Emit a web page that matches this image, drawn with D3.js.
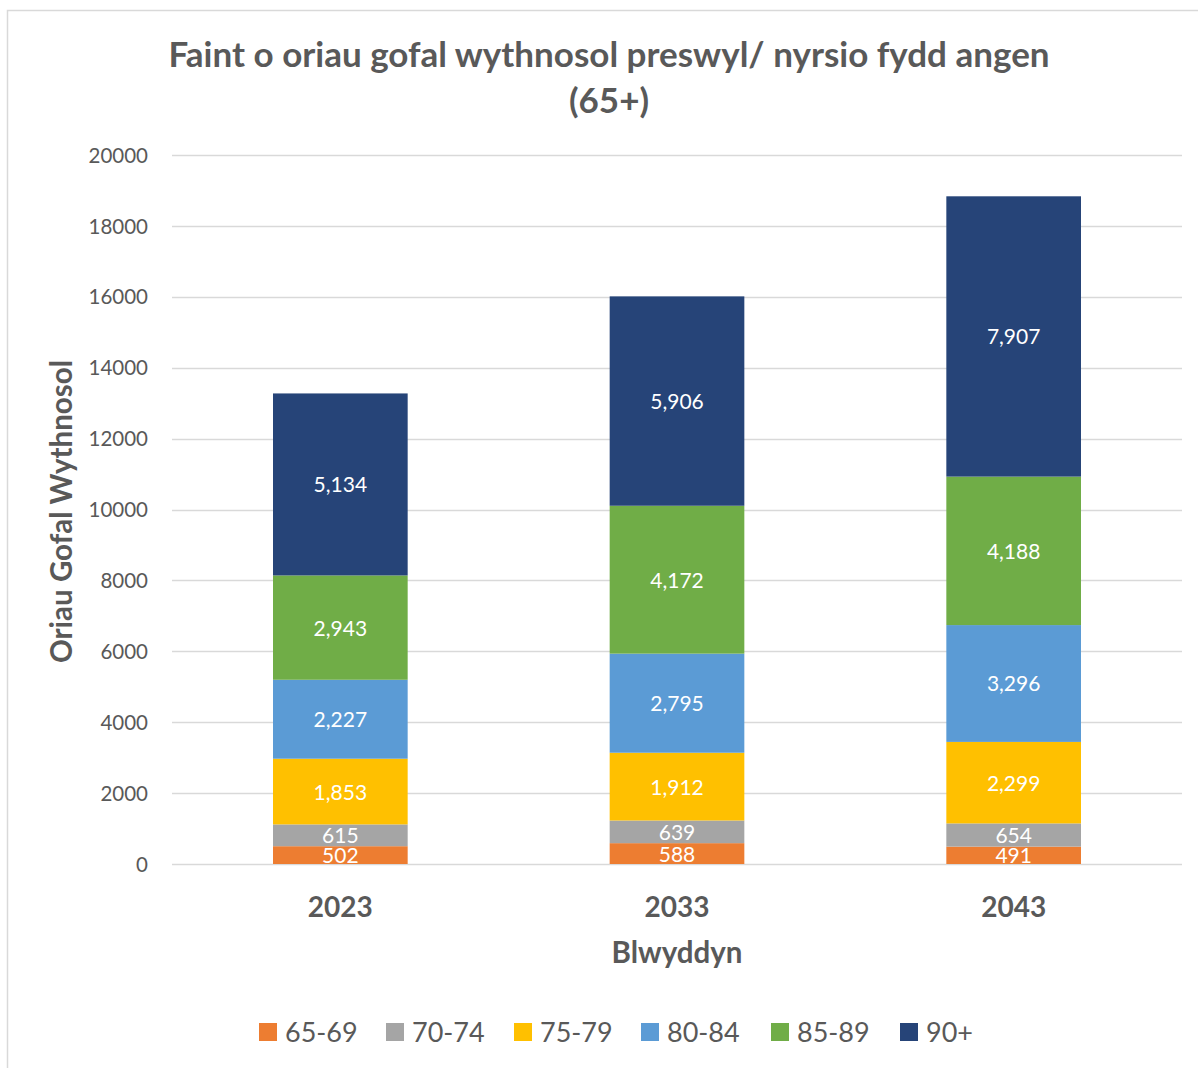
<!DOCTYPE html>
<html>
<head>
<meta charset="utf-8">
<script src="https://cdn.jsdelivr.net/npm/d3@7"></script>
<style>
  body { margin: 0; background: #fff; }
  svg text { font-family: Lato, "Open Sans", sans-serif; }
</style>
</head>
<body>
<svg id="chart" width="1198" height="1068"></svg>
<script>
// Daten
const years = ["2023", "2033", "2043"];
const groups = ["65-69", "70-74", "75-79", "80-84", "85-89", "90+"];
const v6569 = [502, 588, 491];
const v7074 = [615, 639, 654];
const v7579 = [1853, 1912, 2299];
const v8084 = [2227, 2795, 3296];
const v8589 = [2943, 4172, 4188];
const v90 = [5134, 5906, 7907];
const yTicks = [0, 2000, 4000, 6000, 8000, 10000, 12000, 14000, 16000, 18000, 20000];
const colors = ["#ED7D31", "#A5A5A5", "#FFC000", "#5B9BD5", "#70AD47", "#264478"];

const series = [v6569, v7074, v7579, v8084, v8589, v90];
const table = years.map((y, i) => {
    const row = { year: y };
    groups.forEach((g, j) => row[g] = series[j][i]);
    return row;
});

const svg = d3.select("#chart");
const textColor = "#595959";

// Rahmen
svg.append("rect")
    .attr("x", 7.5).attr("y", 10.5)
    .attr("width", 1300).attr("height", 1200)
    .attr("fill", "none").attr("stroke", "#D9D9D9").attr("stroke-width", 1.5);

const plotLeft = 172, plotRight = 1182, plotTop = 155, plotBottom = 864;

const x = d3.scaleBand().domain(years).range([plotLeft, plotRight])
    .paddingInner(0.6).paddingOuter(0.3);
const y = d3.scaleLinear().domain([0, 20000]).range([plotBottom, plotTop]);

// Gitterlinien
svg.append("g")
    .selectAll("line")
    .data(yTicks)
    .join("line")
    .attr("x1", plotLeft).attr("x2", plotRight)
    .attr("y1", d => Math.round(y(d)) + 0.5).attr("y2", d => Math.round(y(d)) + 0.5)
    .attr("stroke", "#D9D9D9").attr("stroke-width", 1.3);

// Y-Achse
const yAxis = svg.append("g")
    .attr("transform", `translate(${plotLeft - 24},0)`)
    .call(d3.axisLeft(y).tickValues(yTicks).tickSize(0).tickPadding(0).tickFormat(d3.format("d")));
yAxis.select(".domain").remove();
yAxis.selectAll("text")
    .attr("fill", textColor).style("font-size", "20.5px").attr("dy", "0.35em");

// X-Achse
const xAxis = svg.append("g")
    .attr("transform", `translate(0,${plotBottom})`)
    .call(d3.axisBottom(x).tickSize(0).tickPadding(43));
xAxis.select(".domain").remove();
xAxis.selectAll("text")
    .attr("fill", textColor).style("font-size", "28px").style("font-weight", "bold").attr("dy", "0.35em");

// Balken
const stack = d3.stack().keys(groups)(table);
const layer = svg.append("g").selectAll("g")
    .data(stack)
    .join("g")
    .attr("fill", (d, i) => colors[i]);

layer.selectAll("rect")
    .data(d => d)
    .join("rect")
    .attr("x", d => x(d.data.year))
    .attr("width", x.bandwidth())
    .attr("y", d => y(d[1]))
    .attr("height", d => y(d[0]) - y(d[1]));

layer.selectAll("text")
    .data(d => d)
    .join("text")
    .attr("x", d => x(d.data.year) + x.bandwidth() / 2)
    .attr("y", d => (y(d[0]) + y(d[1])) / 2)
    .attr("dy", "0.38em")
    .attr("text-anchor", "middle")
    .attr("fill", "#fff")
    .style("font-size", "21px")
    .text(d => d3.format(",")(d[1] - d[0]));

// Titel
const title = svg.append("text")
    .attr("text-anchor", "middle")
    .attr("fill", textColor)
    .style("font-size", "35px").style("font-weight", "bold");
title.append("tspan").attr("x", 609).attr("y", 67).text("Faint o oriau gofal wythnosol preswyl/ nyrsio fydd angen");
title.append("tspan").attr("x", 609).attr("y", 113).text("(65+)");

// Achsentitel
svg.append("text")
    .attr("transform", `translate(72,${(plotTop + plotBottom) / 2 + 2}) rotate(-90)`)
    .attr("text-anchor", "middle")
    .attr("fill", textColor)
    .style("font-size", "29.5px").style("font-weight", "bold")
    .text("Oriau Gofal Wythnosol");

svg.append("text")
    .attr("x", (plotLeft + plotRight) / 2).attr("y", 963)
    .attr("text-anchor", "middle")
    .attr("fill", textColor)
    .style("font-size", "29.5px").style("font-weight", "bold")
    .text("Blwyddyn");

// Legende
const legendX = [259, 386, 514, 641, 771, 900];
const legend = svg.append("g").selectAll("g")
    .data(groups)
    .join("g")
    .attr("transform", (d, i) => `translate(${legendX[i]},1032)`);
legend.append("rect")
    .attr("x", 0).attr("y", -9).attr("width", 18).attr("height", 18)
    .attr("fill", (d, i) => colors[i]);
legend.append("text")
    .attr("x", 26).attr("dy", "0.36em")
    .attr("fill", textColor)
    .style("font-size", "27px")
    .text(d => d);
</script>
</body>
</html>
